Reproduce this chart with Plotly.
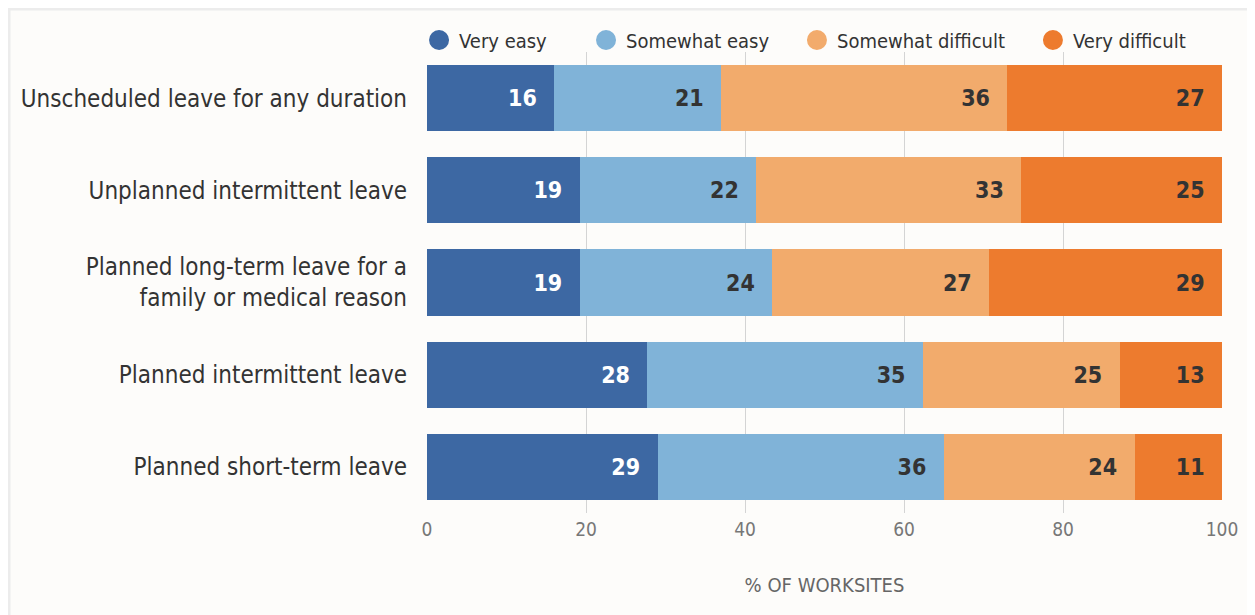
import plotly.graph_objects as go

categories = [
    "Unscheduled leave for any duration",
    "Unplanned intermittent leave",
    "Planned long-term leave for a<br>family or medical reason",
    "Planned intermittent leave",
    "Planned short-term leave",
]
series_names = ["Very easy", "Somewhat easy", "Somewhat difficult", "Very difficult"]
very_easy = [16, 19, 19, 28, 29]
somewhat_easy = [21, 22, 24, 35, 36]
somewhat_difficult = [36, 33, 27, 25, 24]
very_difficult = [27, 25, 29, 13, 11]
tick_vals = [0, 20, 40, 60, 80, 100]
x_title = "% OF WORKSITES"

series_values = [very_easy, somewhat_easy, somewhat_difficult, very_difficult]
colors = ["#3d68a3", "#80b3d8", "#f2ab6c", "#ed7b2e"]
text_colors = ["#ffffff", "#333333", "#333333", "#333333"]
legend_pad = [6, 4, 4, 0]

FONT = "DejaVu Sans Condensed, Roboto, sans-serif"
NB = "\u00a0"

fig = go.Figure()
for name, vals, col, tcol, pad in zip(series_names, series_values, colors, text_colors, legend_pad):
    fig.add_trace(go.Bar(
        y=categories, x=vals, name=name, orientation="h",
        marker=dict(color=col, line=dict(width=0)),
        text=[str(v) + NB * 2 for v in vals], textposition="inside",
        insidetextanchor="end",
        textfont=dict(family=FONT, size=23, color=tcol, weight="bold"),
        showlegend=False,
    ))
    # legend entry with circular marker
    fig.add_trace(go.Scatter(
        x=[None], y=[None], mode="markers",
        name=name + NB * pad,
        marker=dict(color=col, size=16, symbol="circle", line=dict(color=col, width=4)),
        showlegend=True,
    ))

W, H = 1247, 607
L, T, R = 419, 44, 33
PH = 461
B = H - T - PH

fig.update_layout(
    barmode="stack",
    barnorm="percent",
    bargap=0.28,
    width=W, height=H,
    margin=dict(l=L, r=R, t=T, b=B, autoexpand=False),
    paper_bgcolor="#ffffff",
    plot_bgcolor="rgba(0,0,0,0)",
    font=dict(family=FONT, color="#333333"),
    uniformtext=dict(minsize=10, mode="show"),
    legend=dict(
        orientation="h", x=-0.01, y=1 + (T - 32) / PH, xanchor="left", yanchor="middle",
        font=dict(family=FONT, size=20, color="#333333"),
        bgcolor="rgba(0,0,0,0)",
        traceorder="normal",
    ),
    xaxis=dict(
        range=[0, 100], tickvals=tick_vals, showgrid=True,
        gridcolor="#d4d4d4", gridwidth=1, zeroline=False,
        tickfont=dict(family=FONT, size=19, color="#777777"),
        ticklabelstandoff=3,
        title=dict(text=x_title, font=dict(family=FONT, size=20, color="#666666"), standoff=38),
        fixedrange=True,
    ),
    yaxis=dict(
        autorange="reversed", showgrid=False,
        tickfont=dict(family=FONT, size=24, color="#333333"),
        ticklabelstandoff=19,
        fixedrange=True,
    ),
    shapes=[dict(
        type="rect", xref="paper", yref="paper",
        x0=(1 - L) / 795, x1=2.0, y0=-0.6, y1=(T + PH - 1) / PH,
        line=dict(color="#ececec", width=3), fillcolor="#fdfcfa", layer="below",
    )],
)

fig.write_html("out.html")
